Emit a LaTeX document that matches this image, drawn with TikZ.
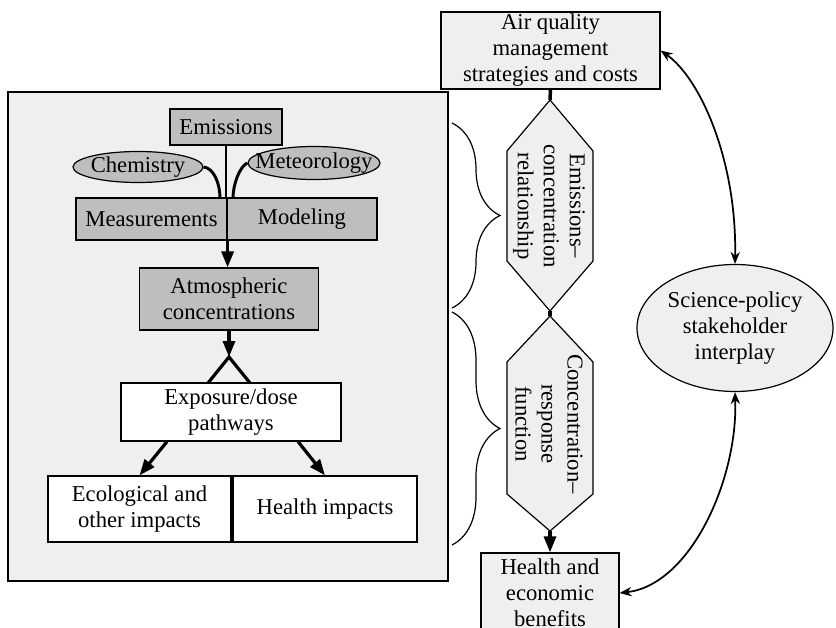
\documentclass[tikz,border=0pt]{standalone}
\usepackage{fontspec}
\setmainfont{Liberation Serif}
\usetikzlibrary{arrows.meta,shapes.geometric,decorations.pathreplacing}
\definecolor{panelgray}{HTML}{EFEFEF}
\definecolor{boxgray}{HTML}{BEBEBE}
\newcommand{\dfont}{\fontsize{17}{19.5}\selectfont}
\begin{document}
\begin{tikzpicture}[x=0.75pt,y=-0.75pt,
  sz/.style 2 args={minimum width=#1*0.75pt, minimum height=#2*0.75pt},
  base/.style={font=\dfont, align=center, inner sep=0pt, line width=0.9pt},
  graybox/.style={base, rectangle, draw, fill=boxgray},
  lightbox/.style={base, rectangle, draw, fill=panelgray},
  whitebox/.style={base, rectangle, draw, fill=white},
  grayell/.style={base, ellipse, draw, fill=boxgray},
  lightell/.style={base, ellipse, draw, fill=panelgray},
  txt/.style={font=\dfont, align=center, inner sep=0pt},
  hexshape/.style={draw, fill=panelgray, line width=0.9pt, line join=miter},
  thickline/.style={line width=2.6pt},
  thickarrow/.style={line width=2.4pt, -{Triangle[length=12pt,width=9pt]}},
  stemline/.style={line width=2pt},
  curveline/.style={line width=2.2pt},
  caretline/.style={line width=2.4pt, line join=miter},
  bracestyle/.style={line width=0.9pt, decorate, decoration={brace, amplitude=36pt}},
  sciarrow/.style={line width=1.3pt, {Stealth[length=9pt,width=7pt]}-{Stealth[length=9pt,width=7pt]}}
]
\useasboundingbox (0,0) rectangle (836,628);
\clip (0,0) rectangle (836,628);

% left panel
\node[lightbox, sz={440}{489}] (panel) at (228,336.5) {};

% top part
\node[graybox, sz={112}{36}] (em) at (226,127) {Emissions};
\node[grayell, sz={130}{31}] (chem) at (138,167) {};
\node[txt] (chemt) at (chem) {Chemistry};
\node[grayell, sz={132}{33}] (met) at (314,163) {};
\node[txt] (mett) at (met) {Meteorology};
\node[graybox, sz={151}{42}] (meas) at (151.5,219) {Measurements};
\node[graybox, sz={150}{42}] (model) at (302,219) {Modeling};
\node[graybox, sz={179}{62}] (atmos) at (229,299) {Atmospheric\\concentrations};
\node[whitebox, sz={220}{58}] (expo) at (231,412) {Exposure/dose\\pathways};
\node[whitebox, sz={183}{66}] (eco) at (139.5,509) {Ecological and\\other impacts};
\node[whitebox, sz={184}{66}] (hi) at (325,509) {Health impacts};

\coordinate (apex) at (229,357);
\coordinate (cl) at (208,383);
\coordinate (cr) at (250,383);
\coordinate (chemend) at (220,198);
\coordinate (metend) at (233,198);

\draw[stemline] (em.south) -- (em.south |- meas.north);
\draw[curveline] (chem.east) .. controls (214,168) and (220,184) .. (chemend);
\draw[curveline] (met.west) .. controls (240,166) and (233,184) .. (metend);
\draw[thickarrow] (meas.south east) -- (meas.south east |- atmos.north);
\draw[thickarrow] (atmos.south) -- (apex);
\draw[caretline] (cl) -- (apex) -- (cr);
\draw[thickarrow] (expo.south) ++(-64,0) -- (eco.north);
\draw[thickarrow] (expo.south) ++(67,0) -- (hi.north);

% braces
\coordinate (b1a) at (452,123);
\coordinate (b1b) at (452,308);
\coordinate (b2a) at (452,312);
\coordinate (b2b) at (452,545);
\draw[bracestyle] (b1a) -- (b1b);
\draw[bracestyle] (b2a) -- (b2b);

% right column
\node[lightbox, sz={219}{77}] (air) at (550.5,50.5) {Air quality\\management\\strategies and costs};
\node[lightbox, sz={138}{80}] (hb) at (550,593) {Health and\\economic\\benefits};
\node[lightell, sz={196}{127}] (sci) at (735,328) {Science-policy\\stakeholder\\interplay};

\coordinate (h1t) at (550,100);
\coordinate (h1b) at (550,311);
\coordinate (h2t) at (550,316);
\coordinate (h2b) at (550,531);
\draw[hexshape] (h1t) -- (593,151) -- (593,261) -- (h1b) -- (507,261) -- (507,151) -- cycle;
\draw[hexshape] (h2t) -- (593,362) -- (593,494) -- (h2b) -- (507,494) -- (507,362) -- cycle;
\node[txt, rotate=-90] (h1text) at (549,206) {Emissions–\\concentration\\relationship};
\node[txt, rotate=-90] (h2text) at (549,424) {Concentration–\\response\\function};

\draw[thickline] (air.south) -- (h1t);
\draw[thickline] (h1b) -- (h2t);
\draw[thickarrow] (h2b) -- (hb.north);

\draw[sciarrow] (sci.north) .. controls (737,160) and (700,78) .. (air.east);
\draw[sciarrow] (sci.south) .. controls (738,480) and (690,585) .. (hb.east);
\end{tikzpicture}
\end{document}
